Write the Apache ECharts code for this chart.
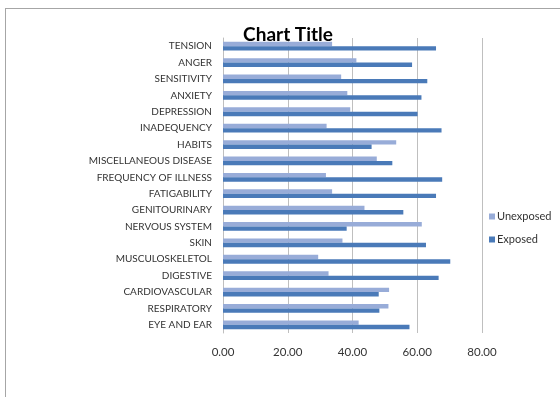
<!DOCTYPE html>
<html>
<head>
<meta charset="utf-8">
<script src="https://cdn.jsdelivr.net/npm/echarts@6/dist/echarts.min.js"></script>
<style>
  html, body { margin: 0; padding: 0; background: #fff; }
  #chart { width: 560px; height: 397px; }
  #frame { position: absolute; left: 5px; top: 8px; width: 600px; height: 500px;
           border-left: 1px solid #a6a6a6; border-top: 1px solid #a6a6a6; pointer-events: none; }
</style>
</head>
<body>
<div id="chart"></div>
<div id="frame"></div>
<script>
// Categories, listed bottom to top as the value axis draws them
const categories = [
  'EYE AND EAR', 'RESPIRATORY', 'CARDIOVASCULAR', 'DIGESTIVE', 'MUSCULOSKELETOL',
  'SKIN', 'NERVOUS SYSTEM', 'GENITOURINARY', 'FATIGABILITY', 'FREQUENCY OF ILLNESS',
  'MISCELLANEOUS DISEASE', 'HABITS', 'INADEQUENCY', 'DEPRESSION', 'ANXIETY',
  'SENSITIVITY', 'ANGER', 'TENSION'
];
const exposed = [
  57.6, 48.3, 48.1, 66.6, 70.2,
  62.7, 38.2, 55.7, 65.8, 67.7,
  52.3, 45.9, 67.5, 60.1, 61.3,
  63.1, 58.4, 65.8
];
const unexposed = [
  41.9, 51.1, 51.3, 32.6, 29.4,
  36.9, 61.4, 43.7, 33.7, 31.8,
  47.5, 53.5, 32.0, 39.3, 38.4,
  36.5, 41.2, 33.7
];
const xTicks = [0, 20, 40, 60, 80];

const textFont = 'Lato, "Open Sans", sans-serif';
const chart = echarts.init(document.getElementById('chart'));
chart.setOption({
  animation: false,
  title: {
    text: 'Chart Title',
    left: 283, top: 20, textAlign: 'center',
    textStyle: { fontFamily: textFont, fontSize: 19, fontWeight: 'bold', color: '#000' }
  },
  legend: {
    orient: 'vertical',
    left: 484, top: 206,
    itemWidth: 6, itemHeight: 6, itemGap: 12,
    icon: 'rect',
    data: ['Unexposed', 'Exposed'],
    textStyle: { fontFamily: textFont, fontSize: 11, color: '#333', padding: [0, 0, 0, -3] }
  },
  grid: { left: 223, right: 78, top: 38, bottom: 64, containLabel: false },
  xAxis: {
    type: 'value',
    min: xTicks[0], max: xTicks[xTicks.length - 1], interval: 20,
    axisLine: { show: false },
    axisTick: { show: false },
    splitLine: { lineStyle: { color: '#bfbfbf', width: 1 } },
    axisLabel: {
      margin: 13,
      fontFamily: textFont, fontSize: 11.5, color: '#333',
      formatter: v => v.toFixed(2)
    }
  },
  yAxis: {
    type: 'category',
    data: categories,
    axisLine: { show: true, lineStyle: { color: '#bfbfbf' } },
    axisTick: { show: false },
    axisLabel: { margin: 11, fontFamily: textFont, fontSize: 10, color: '#333' }
  },
  series: [
    {
      // drawn in the lower slot of each category band
      name: 'Unexposed', type: 'bar', data: unexposed,
      barWidth: 4.4, barGap: '0%',
      itemStyle: { color: '#98acd8' }
    },
    {
      name: 'Exposed', type: 'bar', data: exposed,
      barWidth: 4.4, barGap: '0%',
      itemStyle: { color: '#4a7ab8' }
    }
  ]
});
</script>
</body>
</html>
